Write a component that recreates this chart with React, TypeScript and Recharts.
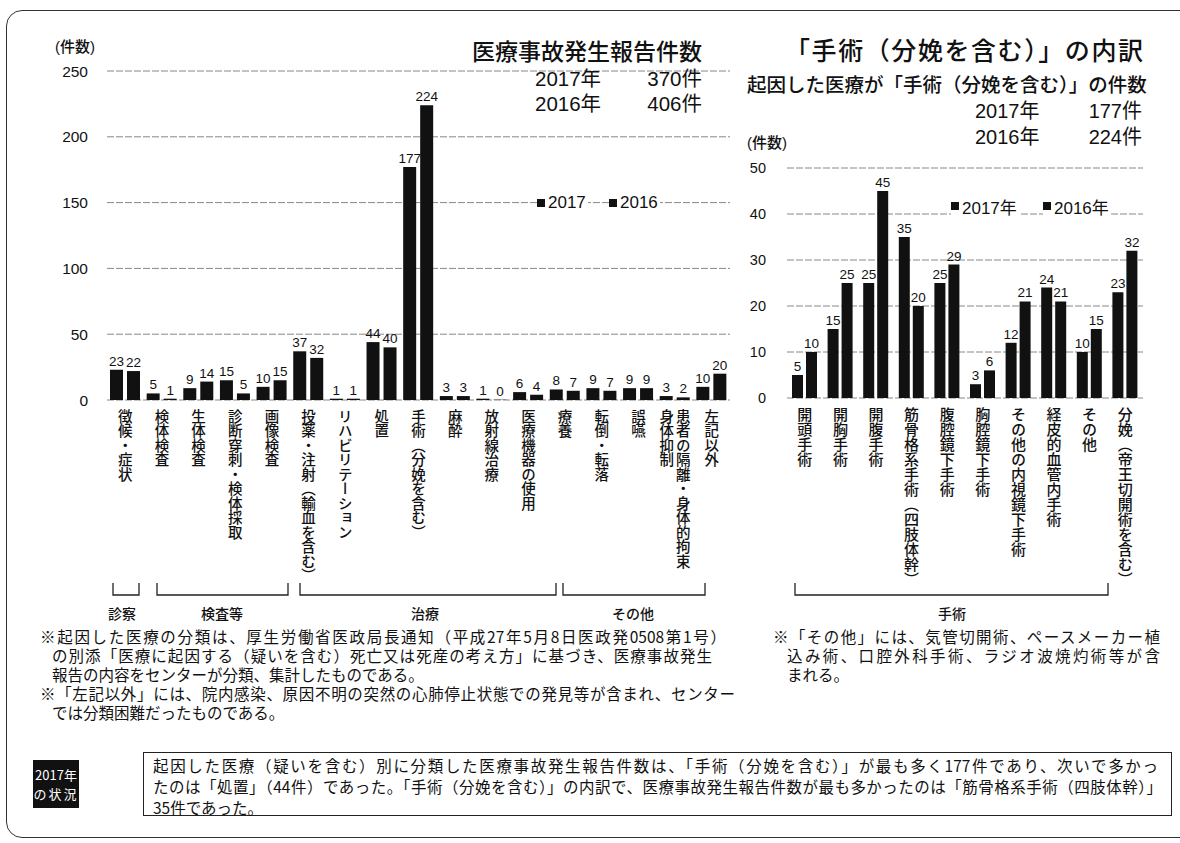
import React from "react";
import { BarChart, Bar, XAxis, YAxis, CartesianGrid, LabelList } from "recharts";

// 起因した医療別の件数（左のグラフ）
const causeLabels = [
  "徴候・症状",
  "検体検査",
  "生体検査",
  "診断穿刺・検体採取",
  "画像検査",
  "投薬・注射（輸血を含む）",
  "リハビリテーション",
  "処置",
  "手術（分娩を含む）",
  "麻酔",
  "放射線治療",
  "医療機器の使用",
  "療養",
  "転倒・転落",
  "誤嚥",
  "患者の隔離・身体的拘束|身体抑制",
  "左記以外",
];
const cause2017 = [23, 5, 9, 15, 10, 37, 1, 44, 177, 3, 1, 6, 8, 9, 9, 3, 10];
const cause2016 = [22, 1, 14, 5, 15, 32, 1, 40, 224, 3, 0, 4, 7, 7, 9, 2, 20];
const causeTicks = [0, 50, 100, 150, 200, 250];

// 「手術（分娩を含む）」の内訳（右のグラフ）
const surgeryLabels = [
  "開頭手術",
  "開胸手術",
  "開腹手術",
  "筋骨格系手術（四肢体幹）",
  "腹腔鏡下手術",
  "胸腔鏡下手術",
  "その他の内視鏡下手術",
  "経皮的血管内手術",
  "その他",
  "分娩（帝王切開術を含む）",
];
const surgery2017 = [5, 15, 25, 35, 25, 3, 12, 24, 10, 23];
const surgery2016 = [10, 25, 45, 20, 29, 6, 21, 21, 15, 32];
const surgeryTicks = [0, 10, 20, 30, 40, 50];

const JP = "'Noto Sans CJK JP', 'Noto Sans', sans-serif";
const NUM = "'Liberation Sans', Arial, 'Noto Sans CJK JP', sans-serif";
const INK = "#111";

const causeData = causeLabels.map((name, i) => ({ name, y2017: cause2017[i], y2016: cause2016[i] }));
const surgeryData = surgeryLabels.map((name, i) => ({ name, y2017: surgery2017[i], y2016: surgery2016[i] }));

function VerticalTick(props: any) {
  const { x, y, payload, size } = props;
  const cols = String(payload.value).split("|");
  const pitch = size + 2;
  return (
    <g>
      {cols.map((c: string, i: number) => (
        <text
          key={i}
          x={x + ((cols.length - 1) / 2 - i) * pitch}
          y={y + 1}
          fontSize={size}
          fontFamily={JP}
          fontWeight={500}
          fill={INK}
          textAnchor="start"
          style={{ writingMode: "vertical-rl" }}
        >
          {c}
        </text>
      ))}
    </g>
  );
}

function NumTick(props: any) {
  const { y, payload, right, size } = props;
  return (
    <text x={right} y={y} textAnchor="end" dominantBaseline="central" fontSize={size} fontFamily={NUM} fill={INK}>
      {payload.value}
    </text>
  );
}

function TopLabel(props: any) {
  const { x, y, width, value } = props;
  return (
    <text x={Number(x) + Number(width) / 2} y={Number(y) - 4} textAnchor="middle" fontSize={13.5} fontFamily={NUM} fill={INK}>
      {value}
    </text>
  );
}

const abs = (left: number, top: number, extra: React.CSSProperties = {}): React.CSSProperties => ({
  position: "absolute",
  left,
  top,
  whiteSpace: "nowrap",
  color: INK,
  fontFamily: JP,
  ...extra,
});

// 一行を指定幅に均等割り付け
function Line({ left, top, width, size, children }: any) {
  return (
    <div style={abs(left, top, { width, fontSize: size, lineHeight: "19px", textAlign: "justify", textAlignLast: width ? "justify" : "left" } as any)}>
      {children}
    </div>
  );
}

function Square({ x, y, label, size }: any) {
  return (
    <div style={abs(x, y - 11, { height: 22, display: "flex", alignItems: "center", background: "#fff", paddingRight: 2 })}>
      <span style={{ width: 8, height: 8, background: INK, display: "inline-block", marginRight: 3 }} />
      <span style={{ fontFamily: NUM, fontSize: size }}>{label}</span>
    </div>
  );
}

export default function App() {
  const brackets = [
    [113, 139],
    [157, 288],
    [300, 556],
    [563, 705],
    [795, 1108],
  ];
  return (
    <div style={{ position: "absolute", left: 0, top: 0, width: 1180, height: 843, overflow: "hidden", background: "#fff" }}>
      {/* frame */}
      <div style={{ position: "absolute", left: 6, top: 10, width: 1220, height: 826, border: "1.5px solid #333", borderRadius: 16 }} />

      {/* left chart */}
      <div style={{ position: "absolute", left: 0, top: 0 }}>
        <BarChart width={740} height={620} data={causeData} margin={{ top: 71, right: 10, left: 0, bottom: 0 }} barSize={13} barGap={4}>
          <CartesianGrid vertical={false} stroke="#888" strokeDasharray="7 2" />
          <XAxis dataKey="name" interval={0} axisLine={false} tickLine={false} height={220} tick={<VerticalTick size={14.5} />} />
          <YAxis domain={[0, 250]} ticks={causeTicks} width={107} axisLine={false} tickLine={false} tick={<NumTick right={88} size={15.5} />} />
          <Bar dataKey="y2017" fill={INK} minPointSize={0.3} isAnimationActive={false}>
            <LabelList dataKey="y2017" content={<TopLabel />} />
          </Bar>
          <Bar dataKey="y2016" fill={INK} minPointSize={0.3} isAnimationActive={false}>
            <LabelList dataKey="y2016" content={<TopLabel />} />
          </Bar>
        </BarChart>
      </div>

      {/* right chart */}
      <div style={{ position: "absolute", left: 740, top: 0 }}>
        <BarChart width={440} height={620} data={surgeryData} margin={{ top: 168, right: 37, left: 0, bottom: 0 }} barSize={11} barGap={3}>
          <CartesianGrid vertical={false} stroke="#888" strokeDasharray="7 2" />
          <XAxis dataKey="name" interval={0} axisLine={false} tickLine={false} height={222} tick={<VerticalTick size={15} />} />
          <YAxis domain={[0, 50]} ticks={surgeryTicks} width={47} axisLine={false} tickLine={false} tick={<NumTick right={26} size={14.5} />} />
          <Bar dataKey="y2017" fill={INK} isAnimationActive={false}>
            <LabelList dataKey="y2017" content={<TopLabel />} />
          </Bar>
          <Bar dataKey="y2016" fill={INK} isAnimationActive={false}>
            <LabelList dataKey="y2016" content={<TopLabel />} />
          </Bar>
        </BarChart>
      </div>

      {/* group brackets */}
      <svg width={1180} height={843} style={{ position: "absolute", left: 0, top: 0, pointerEvents: "none" }}>
        {brackets.map(([a, b], i) => (
          <path key={i} d={`M${a} 583 V595 H${b} V583`} fill="none" stroke="#222" strokeWidth={1.3} />
        ))}
      </svg>
      <div style={abs(108, 603, { fontSize: 14, fontWeight: 500 })}>診察</div>
      <div style={abs(201, 603, { fontSize: 14, fontWeight: 500 })}>検査等</div>
      <div style={abs(411, 603, { fontSize: 14, fontWeight: 500 })}>治療</div>
      <div style={abs(612, 603, { fontSize: 14, fontWeight: 500 })}>その他</div>
      <div style={abs(938, 603, { fontSize: 14, fontWeight: 500 })}>手術</div>

      {/* left titles */}
      <div style={abs(55, 35, { fontSize: 15, fontFamily: NUM, fontWeight: 500 })}>(件数)</div>
      <div style={abs(472, 33, { fontSize: 23, fontWeight: 500 })}>医療事故発生報告件数</div>
      <div style={abs(535, 62, { fontSize: 20.5, fontFamily: NUM })}>2017年</div>
      <div style={abs(602, 62, { width: 100, textAlign: "right", fontSize: 20.5, fontFamily: NUM })}>370件</div>
      <div style={abs(535, 87, { fontSize: 20.5, fontFamily: NUM })}>2016年</div>
      <div style={abs(602, 87, { width: 100, textAlign: "right", fontSize: 20.5, fontFamily: NUM })}>406件</div>
      <Square x={537} y={203} label="2017" size={17} />
      <Square x={609} y={203} label="2016" size={17} />

      {/* right titles */}
      <div style={abs(785, 31, { width: 358, fontSize: 25, fontWeight: 500, textAlign: "justify", textAlignLast: "justify" } as any)}>「手術（分娩を含む）」の内訳</div>
      <div style={abs(747, 69, { width: 396, fontSize: 19.5, fontWeight: 500, textAlign: "justify", textAlignLast: "justify" } as any)}>起因した医療が「手術（分娩を含む）」の件数</div>
      <div style={abs(975, 95, { fontSize: 20, fontFamily: NUM })}>2017年</div>
      <div style={abs(1042, 95, { width: 100, textAlign: "right", fontSize: 20, fontFamily: NUM })}>177件</div>
      <div style={abs(975, 121, { fontSize: 20, fontFamily: NUM })}>2016年</div>
      <div style={abs(1042, 121, { width: 100, textAlign: "right", fontSize: 20, fontFamily: NUM })}>224件</div>
      <div style={abs(747, 131, { fontSize: 15, fontFamily: NUM, fontWeight: 500 })}>(件数)</div>
      <Square x={951} y={206} label="2017年" size={17} />
      <Square x={1043} y={206} label="2016年" size={17} />

      {/* notes */}
      <Line left={40} top={627} width={686} size={15.5}>※起因した医療の分類は、厚生労働省医政局長通知（平成27年5月8日医政発0508第1号）</Line>
      <Line left={52} top={646} width={660} size={15.5}>の別添「医療に起因する（疑いを含む）死亡又は死産の考え方」に基づき、医療事故発生</Line>
      <Line left={52} top={665} size={15.5}>報告の内容をセンターが分類、集計したものである。</Line>
      <Line left={40} top={684} width={695} size={15.5}>※「左記以外」には、院内感染、原因不明の突然の心肺停止状態での発見等が含まれ、センター</Line>
      <Line left={52} top={703} size={15.5}>では分類困難だったものである。</Line>

      <Line left={773} top={627} width={387} size={15.5}>※「その他」には、気管切開術、ペースメーカー植</Line>
      <Line left={787} top={646} width={373} size={15.5}>込み術、口腔外科手術、ラジオ波焼灼術等が含</Line>
      <Line left={787} top={665} size={15.5}>まれる。</Line>

      {/* 2017年の状況 */}
      <div style={abs(33, 760, { width: 46, height: 48, background: INK, color: "#fff", fontSize: 13, lineHeight: "19px", textAlign: "center", paddingTop: 5, boxSizing: "border-box" })}>
        <div>2017年</div>
        <div style={{ letterSpacing: 2 }}>の状況</div>
      </div>
      <div style={{ position: "absolute", left: 143, top: 752, width: 1029, height: 64, border: "1.5px solid #222", boxSizing: "border-box" }} />
      <Line left={153} top={756} width={1005} size={15.5}>起因した医療（疑いを含む）別に分類した医療事故発生報告件数は、「手術（分娩を含む）」が最も多く177件であり、次いで多かっ</Line>
      <Line left={153} top={777} width={1009} size={15.5}>たのは「処置」（44件）であった。「手術（分娩を含む）」の内訳で、医療事故発生報告件数が最も多かったのは「筋骨格系手術（四肢体幹）」</Line>
      <Line left={153} top={798} size={15.5}>35件であった。</Line>
    </div>
  );
}
